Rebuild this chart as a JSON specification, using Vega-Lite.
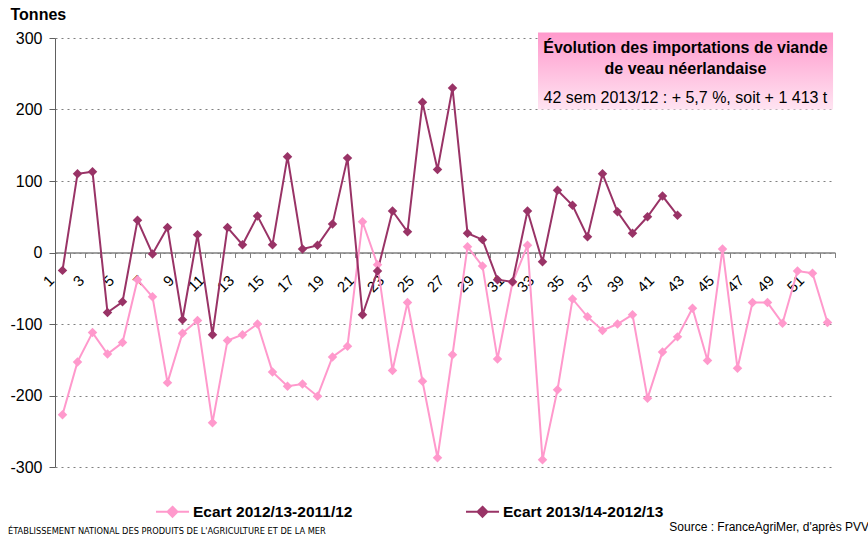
{
  "$schema": "https://vega.github.io/schema/vega-lite/v6.json",
  "width": 780,
  "height": 429,
  "autosize": {"type": "none"},
  "padding": {"left": 55, "top": 38, "right": 33, "bottom": 72},
  "background": "white",
  "config": {"font": "Liberation Sans", "view": {"stroke": null}},
  "resolve": {"axis": {"x": "independent", "y": "independent"}},
  "datasets": {
    "weekly": [
      {"week": 1, "series": "Ecart 2012/13-2011/12", "value": -227},
      {"week": 2, "series": "Ecart 2012/13-2011/12", "value": -153},
      {"week": 3, "series": "Ecart 2012/13-2011/12", "value": -112},
      {"week": 4, "series": "Ecart 2012/13-2011/12", "value": -142},
      {"week": 5, "series": "Ecart 2012/13-2011/12", "value": -126},
      {"week": 6, "series": "Ecart 2012/13-2011/12", "value": -38},
      {"week": 7, "series": "Ecart 2012/13-2011/12", "value": -62},
      {"week": 8, "series": "Ecart 2012/13-2011/12", "value": -182},
      {"week": 9, "series": "Ecart 2012/13-2011/12", "value": -113},
      {"week": 10, "series": "Ecart 2012/13-2011/12", "value": -95},
      {"week": 11, "series": "Ecart 2012/13-2011/12", "value": -238},
      {"week": 12, "series": "Ecart 2012/13-2011/12", "value": -123},
      {"week": 13, "series": "Ecart 2012/13-2011/12", "value": -115},
      {"week": 14, "series": "Ecart 2012/13-2011/12", "value": -100},
      {"week": 15, "series": "Ecart 2012/13-2011/12", "value": -167},
      {"week": 16, "series": "Ecart 2012/13-2011/12", "value": -187},
      {"week": 17, "series": "Ecart 2012/13-2011/12", "value": -184},
      {"week": 18, "series": "Ecart 2012/13-2011/12", "value": -201},
      {"week": 19, "series": "Ecart 2012/13-2011/12", "value": -146},
      {"week": 20, "series": "Ecart 2012/13-2011/12", "value": -131},
      {"week": 21, "series": "Ecart 2012/13-2011/12", "value": 43},
      {"week": 22, "series": "Ecart 2012/13-2011/12", "value": -17},
      {"week": 23, "series": "Ecart 2012/13-2011/12", "value": -165},
      {"week": 24, "series": "Ecart 2012/13-2011/12", "value": -70},
      {"week": 25, "series": "Ecart 2012/13-2011/12", "value": -180},
      {"week": 26, "series": "Ecart 2012/13-2011/12", "value": -287},
      {"week": 27, "series": "Ecart 2012/13-2011/12", "value": -143},
      {"week": 28, "series": "Ecart 2012/13-2011/12", "value": 8},
      {"week": 29, "series": "Ecart 2012/13-2011/12", "value": -19},
      {"week": 30, "series": "Ecart 2012/13-2011/12", "value": -149},
      {"week": 31, "series": "Ecart 2012/13-2011/12", "value": -42},
      {"week": 32, "series": "Ecart 2012/13-2011/12", "value": 10},
      {"week": 33, "series": "Ecart 2012/13-2011/12", "value": -290},
      {"week": 34, "series": "Ecart 2012/13-2011/12", "value": -192},
      {"week": 35, "series": "Ecart 2012/13-2011/12", "value": -65},
      {"week": 36, "series": "Ecart 2012/13-2011/12", "value": -90},
      {"week": 37, "series": "Ecart 2012/13-2011/12", "value": -109},
      {"week": 38, "series": "Ecart 2012/13-2011/12", "value": -100},
      {"week": 39, "series": "Ecart 2012/13-2011/12", "value": -87},
      {"week": 40, "series": "Ecart 2012/13-2011/12", "value": -204},
      {"week": 41, "series": "Ecart 2012/13-2011/12", "value": -139},
      {"week": 42, "series": "Ecart 2012/13-2011/12", "value": -118},
      {"week": 43, "series": "Ecart 2012/13-2011/12", "value": -78},
      {"week": 44, "series": "Ecart 2012/13-2011/12", "value": -151},
      {"week": 45, "series": "Ecart 2012/13-2011/12", "value": 5},
      {"week": 46, "series": "Ecart 2012/13-2011/12", "value": -162},
      {"week": 47, "series": "Ecart 2012/13-2011/12", "value": -70},
      {"week": 48, "series": "Ecart 2012/13-2011/12", "value": -70},
      {"week": 49, "series": "Ecart 2012/13-2011/12", "value": -99},
      {"week": 50, "series": "Ecart 2012/13-2011/12", "value": -26},
      {"week": 51, "series": "Ecart 2012/13-2011/12", "value": -29},
      {"week": 52, "series": "Ecart 2012/13-2011/12", "value": -98},
      {"week": 1, "series": "Ecart 2013/14-2012/13", "value": -25},
      {"week": 2, "series": "Ecart 2013/14-2012/13", "value": 110},
      {"week": 3, "series": "Ecart 2013/14-2012/13", "value": 113},
      {"week": 4, "series": "Ecart 2013/14-2012/13", "value": -84},
      {"week": 5, "series": "Ecart 2013/14-2012/13", "value": -69},
      {"week": 6, "series": "Ecart 2013/14-2012/13", "value": 45},
      {"week": 7, "series": "Ecart 2013/14-2012/13", "value": -2},
      {"week": 8, "series": "Ecart 2013/14-2012/13", "value": 35},
      {"week": 9, "series": "Ecart 2013/14-2012/13", "value": -94},
      {"week": 10, "series": "Ecart 2013/14-2012/13", "value": 25},
      {"week": 11, "series": "Ecart 2013/14-2012/13", "value": -115},
      {"week": 12, "series": "Ecart 2013/14-2012/13", "value": 35},
      {"week": 13, "series": "Ecart 2013/14-2012/13", "value": 11},
      {"week": 14, "series": "Ecart 2013/14-2012/13", "value": 51},
      {"week": 15, "series": "Ecart 2013/14-2012/13", "value": 11},
      {"week": 16, "series": "Ecart 2013/14-2012/13", "value": 134},
      {"week": 17, "series": "Ecart 2013/14-2012/13", "value": 5},
      {"week": 18, "series": "Ecart 2013/14-2012/13", "value": 10},
      {"week": 19, "series": "Ecart 2013/14-2012/13", "value": 40},
      {"week": 20, "series": "Ecart 2013/14-2012/13", "value": 132},
      {"week": 21, "series": "Ecart 2013/14-2012/13", "value": -87},
      {"week": 22, "series": "Ecart 2013/14-2012/13", "value": -26},
      {"week": 23, "series": "Ecart 2013/14-2012/13", "value": 58},
      {"week": 24, "series": "Ecart 2013/14-2012/13", "value": 29},
      {"week": 25, "series": "Ecart 2013/14-2012/13", "value": 210},
      {"week": 26, "series": "Ecart 2013/14-2012/13", "value": 116},
      {"week": 27, "series": "Ecart 2013/14-2012/13", "value": 230},
      {"week": 28, "series": "Ecart 2013/14-2012/13", "value": 27},
      {"week": 29, "series": "Ecart 2013/14-2012/13", "value": 18},
      {"week": 30, "series": "Ecart 2013/14-2012/13", "value": -38},
      {"week": 31, "series": "Ecart 2013/14-2012/13", "value": -41},
      {"week": 32, "series": "Ecart 2013/14-2012/13", "value": 58},
      {"week": 33, "series": "Ecart 2013/14-2012/13", "value": -13},
      {"week": 34, "series": "Ecart 2013/14-2012/13", "value": 87},
      {"week": 35, "series": "Ecart 2013/14-2012/13", "value": 66},
      {"week": 36, "series": "Ecart 2013/14-2012/13", "value": 22},
      {"week": 37, "series": "Ecart 2013/14-2012/13", "value": 110},
      {"week": 38, "series": "Ecart 2013/14-2012/13", "value": 57},
      {"week": 39, "series": "Ecart 2013/14-2012/13", "value": 27},
      {"week": 40, "series": "Ecart 2013/14-2012/13", "value": 50},
      {"week": 41, "series": "Ecart 2013/14-2012/13", "value": 79},
      {"week": 42, "series": "Ecart 2013/14-2012/13", "value": 52}
    ]
  },
  "layer": [
    {
      "data": {"name": "weekly"},
      "mark": {"type": "line", "strokeWidth": 2, "point": {"shape": "diamond", "size": 90, "filled": true, "opacity": 1}},
      "encoding": {
        "x": {
          "field": "week", "type": "quantitative",
          "scale": {"domain": [0.5, 52.5], "nice": false, "zero": false},
          "axis": {
            "orient": "bottom",
            "title": null,
            "values": [0.5,1.5,2.5,3.5,4.5,5.5,6.5,7.5,8.5,9.5,10.5,11.5,12.5,13.5,14.5,15.5,16.5,17.5,18.5,19.5,20.5,21.5,22.5,23.5,24.5,25.5,26.5,27.5,28.5,29.5,30.5,31.5,32.5,33.5,34.5,35.5,36.5,37.5,38.5,39.5,40.5,41.5,42.5,43.5,44.5,45.5,46.5,47.5,48.5,49.5,50.5,51.5,52.5],
            "offset": -214.5,
            "grid": false,
            "domainColor": "#808080", "domainWidth": 1.5,
            "tickColor": "#808080", "tickSize": 5, "tickWidth": 1,
            "labelExpr": "((datum.value + 0.5) % 2 == 1 && datum.value < 52) ? '' + (datum.value + 0.5) : ''",
            "labelOffset": -4,
            "labelAngle": -45, "labelAlign": "right", "labelBaseline": "middle",
            "labelFontSize": 15, "labelColor": "black", "labelPadding": 20,
            "labelOverlap": false, "labelBound": false, "labelFlush": false
          }
        },
        "y": {
          "field": "value", "type": "quantitative",
          "scale": {"domain": [-300, 300], "nice": false},
          "axis": {
            "orient": "left",
            "title": "Tonnes", "titleAngle": 0, "titleFontSize": 16, "titleFontWeight": "bold", "titleColor": "black",
            "titleAlign": "left", "titleBaseline": "middle", "titleX": -45, "titleY": -24,
            "values": [-300, -200, -100, 0, 100, 200, 300],
            "labelExpr": "'' + datum.value",
            "grid": true, "gridDash": [2, 4], "gridColor": "#808080", "gridWidth": 1,
            "domainColor": "#606060", "tickColor": "#606060", "tickSize": 6,
            "labelFontSize": 16, "labelColor": "black", "labelPadding": 7
          }
        },
        "color": {
          "field": "series", "type": "nominal",
          "scale": {"domain": ["Ecart 2012/13-2011/12", "Ecart 2013/14-2012/13"], "range": ["#FF99CC", "#993366"]},
          "legend": {
            "title": null, "orient": "none", "direction": "horizontal",
            "legendX": 100, "legendY": 456,
            "symbolType": "M-1,0H1M0,-0.3L0.3,0L0,0.3L-0.3,0Z",
            "symbolSize": 1089, "symbolStrokeWidth": 2,
            "labelFontSize": 15.5, "labelFontWeight": "bold", "labelColor": "black",
            "labelOffset": 3, "columnPadding": 109, "labelLimit": 300,
            "encode": {"symbols": {"update": {"fill": {"scale": "color", "field": "value"}, "stroke": {"scale": "color", "field": "value"}, "opacity": {"value": 1}}}}
          }
        }
      }
    },
    {
      "data": {"values": [{}]},
      "mark": {"type": "rect", "clip": false, "fill": {"gradient": "linear", "x1": 0, "y1": 0, "x2": 0, "y2": 1, "stops": [{"offset": 0, "color": "#FF99CC"}, {"offset": 1, "color": "#FFE4F2"}]}},
      "encoding": {
        "x": {"datum": 32.7, "type": "quantitative", "axis": null},
        "x2": {"datum": 52.37},
        "y": {"datum": 307.7, "type": "quantitative", "axis": null},
        "y2": {"datum": 200}
      }
    },
    {
      "data": {"values": [{}]},
      "mark": {"type": "text", "clip": false, "align": "center", "baseline": "middle", "fontSize": 16, "fontWeight": "bold", "color": "black", "lineHeight": 21},
      "encoding": {
        "x": {"datum": 42.53, "type": "quantitative", "axis": null},
        "y": {"datum": 286, "type": "quantitative", "axis": null},
        "text": {"value": ["Évolution des importations de viande", "de veau néerlandaise"]}
      }
    },
    {
      "data": {"values": [{}]},
      "mark": {"type": "text", "clip": false, "align": "center", "baseline": "middle", "fontSize": 16, "color": "black"},
      "encoding": {
        "x": {"datum": 42.53, "type": "quantitative", "axis": null},
        "y": {"datum": 216.1, "type": "quantitative", "axis": null},
        "text": {"value": "42 sem 2013/12 : + 5,7 %, soit + 1 413 t"}
      }
    },
    {
      "data": {"values": [{}]},
      "mark": {"type": "text", "clip": false, "align": "left", "baseline": "middle", "fontSize": 9.2, "font": "DejaVu Sans Condensed, Liberation Sans", "color": "black"},
      "encoding": {
        "x": {"datum": -2.63, "type": "quantitative", "axis": null},
        "y": {"datum": -389.5, "type": "quantitative", "axis": null},
        "text": {"value": "ÉTABLISSEMENT NATIONAL DES PRODUITS DE L'AGRICULTURE ET DE LA MER"}
      }
    },
    {
      "data": {"values": [{}]},
      "mark": {"type": "text", "clip": false, "align": "right", "baseline": "middle", "fontSize": 12, "color": "black"},
      "encoding": {
        "x": {"datum": 54.77, "type": "quantitative", "axis": null},
        "y": {"datum": -383.9, "type": "quantitative", "axis": null},
        "text": {"value": "Source : FranceAgriMer, d'après PVV"}
      }
    }
  ]
}
